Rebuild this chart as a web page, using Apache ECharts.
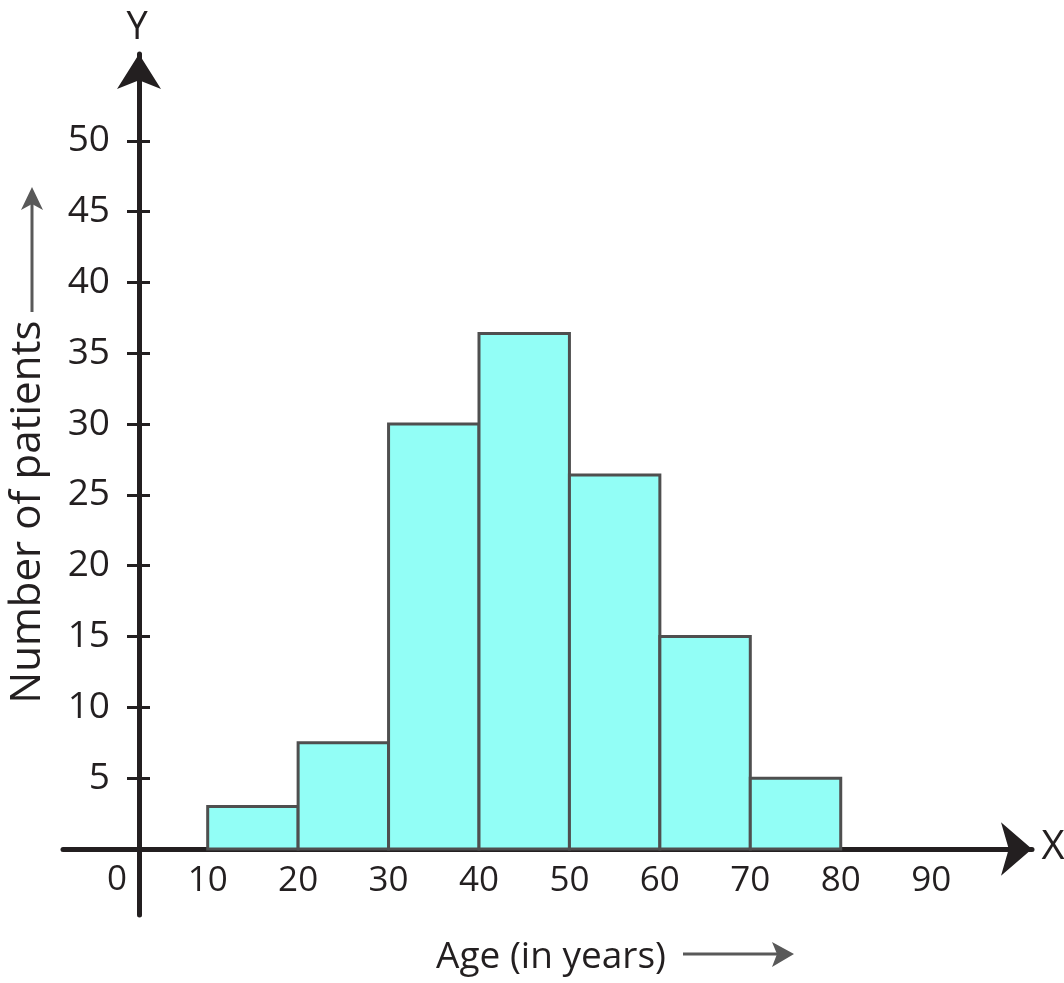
<!DOCTYPE html>
<html><head><meta charset="utf-8">
<script src="https://cdn.jsdelivr.net/npm/echarts@6/dist/echarts.min.js"></script>
<style>html,body{margin:0;padding:0;background:#fff}#c{width:1064px;height:983px}</style>
</head><body><div id="c"></div>
<script>
// ---- data ----
const binStart = [10, 20, 30, 40, 50, 60, 70];
const binEnd = [20, 30, 40, 50, 60, 70, 80];
const patients = [3, 7.5, 30, 36.4, 26.4, 15, 5];
const xTickValues = [10, 20, 30, 40, 50, 60, 70, 80, 90];
const yTickValues = [5, 10, 15, 20, 25, 30, 35, 40, 45, 50];
const xAxisTitle = 'Age (in years)';
const yAxisTitle = 'Number of patients';
const originLabel = '0';
const xLetter = 'X';
const yLetter = 'Y';

// ---- style ----
const ink = '#231f20';
const arrowGrey = '#595959';
const digitFont = '"Open Sans", sans-serif';
const wordFont = '"Open Sans", sans-serif';

const chart = echarts.init(document.getElementById('c'), null, { renderer: 'canvas' });
const barData = binStart.map((s, i) => [s, binEnd[i], patients[i]]);

const yRange = { min: -4.66, max: 56.13 };

const option = {
  animation: false,
  backgroundColor: '#ffffff',
  grid: { left: 63, right: 32, top: 54, bottom: 68, outerBoundsMode: 'none', containLabel: false },
  xAxis: {
    type: 'value', min: -6, max: 101.15, offset: -66,
    name: xAxisTitle, nameLocation: 'middle', nameGap: 108,
    nameTextStyle: { fontFamily: wordFont, fontSize: 37, color: ink, verticalAlign: 'middle', padding: [0, 0, 0, 7] },
    axisLine: { show: true, onZero: false, symbol: ['none', 'arrow'], symbolSize: [40, 31], lineStyle: { color: ink, width: 5 } },
    axisTick: { show: false },
    splitLine: { show: false },
    axisLabel: { customValues: xTickValues, fontFamily: digitFont, fontSize: 35, color: ink, margin: 32, verticalAlign: 'middle' }
  },
  yAxis: [
    {
      type: 'value', min: yRange.min, max: yRange.max, offset: -76,
      name: yAxisTitle, nameLocation: 'middle', nameGap: 111, nameRotate: 90,
      nameTextStyle: { fontFamily: wordFont, fontSize: 42, color: ink, verticalAlign: 'middle', padding: [0, 55, 0, 0] },
      axisLine: { show: true, onZero: false, symbol: ['none', 'arrow'], symbolSize: [33, 35], lineStyle: { color: ink, width: 5 } },
      axisTick: { show: true, customValues: yTickValues, length: 12, lineStyle: { color: ink, width: 3 } },
      axisLabel: { customValues: yTickValues, fontFamily: digitFont, fontSize: 37, color: ink, margin: 29 },
      splitLine: { show: false }
    },
    {
      type: 'value', min: yRange.min, max: yRange.max, offset: -76, position: 'left',
      axisLine: { show: false, onZero: false },
      axisTick: { show: true, inside: true, customValues: yTickValues, length: 11, lineStyle: { color: ink, width: 3 } },
      axisLabel: { show: false },
      splitLine: { show: false }
    }
  ],
  series: [{
    type: 'custom',
    data: barData,
    encode: { x: [0, 1], y: 2 },
    z: 3,
    renderItem: function (params, api) {
      const p0 = api.coord([api.value(0), api.value(2)]);
      const p1 = api.coord([api.value(1), 0]);
      return {
        type: 'rect',
        shape: { x: p0[0], y: p0[1], width: p1[0] - p0[0], height: p1[1] - p0[1] },
        style: { fill: '#92fef6', stroke: '#4f4f4f', lineWidth: 3 }
      };
    }
  }],
  graphic: [
    { type: 'text', x: 137, y: 28, style: { text: yLetter, font: '38px ' + digitFont, fill: ink, align: 'center', verticalAlign: 'middle' } },
    { type: 'text', x: 1053, y: 848, style: { text: xLetter, font: '40px ' + digitFont, fill: ink, align: 'center', verticalAlign: 'middle' } },
    { type: 'text', x: 117, y: 880, style: { text: originLabel, font: '35px ' + digitFont, fill: ink, align: 'center', verticalAlign: 'middle' } },
    { type: 'line', shape: { x1: 32, y1: 312, x2: 32, y2: 200 }, style: { stroke: arrowGrey, lineWidth: 3 } },
    { type: 'polygon', shape: { points: [[32, 187], [43, 210], [32, 204], [21, 210]] }, style: { fill: arrowGrey } },
    { type: 'line', shape: { x1: 683, y1: 954, x2: 782, y2: 954 }, style: { stroke: arrowGrey, lineWidth: 3 } },
    { type: 'polygon', shape: { points: [[794, 954], [772, 942], [777, 954], [772, 967]] }, style: { fill: arrowGrey } }
  ]
};
chart.setOption(option);
</script>
</body></html>
